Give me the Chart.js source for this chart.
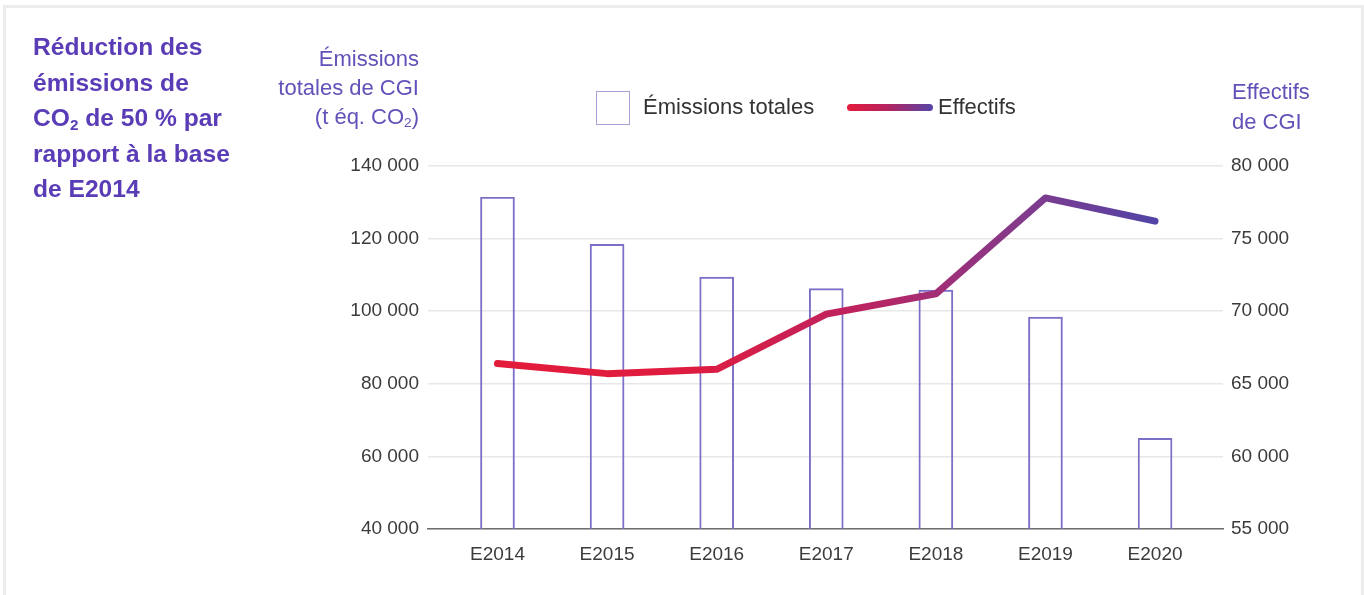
<!DOCTYPE html>
<html>
<head>
<meta charset="utf-8">
<script src="https://cdn.jsdelivr.net/npm/chart.js@4/dist/chart.umd.min.js"></script>
<style>
html,body{margin:0;padding:0;background:#fff;}
#wrap{position:relative;width:1364px;height:595px;overflow:hidden;font-family:"Liberation Sans",Arial,sans-serif;}
#frame{position:absolute;left:3px;top:5px;width:1361px;height:620px;border:3px solid #ececec;box-sizing:border-box;}
#c{position:absolute;left:0;top:0;}
.t{position:absolute;white-space:nowrap;}
sub{font-size:0.62em;vertical-align:-0.25em;line-height:0;}
#title{left:33px;top:29px;color:#5a3db6;font-weight:bold;font-size:24.6px;line-height:35.5px;}
#ytl{right:945px;top:43.6px;text-align:right;color:#6350b8;font-size:22px;line-height:29px;}
#ytr{left:1232px;top:77px;color:#6350b8;font-size:22px;line-height:29.7px;}
#legend .box{position:absolute;left:596px;top:91px;width:34px;height:34px;border:1.5px solid #a99fd9;box-sizing:border-box;}
#legend .ln{position:absolute;left:847px;top:104px;width:86px;height:7px;border-radius:3.5px;background:linear-gradient(to right,#e31b3b,#b8235f 45%,#5544a8);}
#legend .lt{position:absolute;top:94.4px;font-size:22px;line-height:26px;color:#333;white-space:nowrap;}
</style>
</head>
<body>
<div id="wrap">
  <div id="frame"></div>
  <canvas id="c" width="1364" height="595"></canvas>
  <div id="title" class="t">Réduction des<br>émissions de<br>CO<sub>2</sub> de 50&nbsp;% par<br>rapport à la base<br>de E2014</div>
  <div id="ytl" class="t">Émissions<br>totales de CGI<br>(t éq. CO<sub>2</sub>)</div>
  <div id="ytr" class="t">Effectifs<br>de CGI</div>
  <div id="legend"></div>
</div>
<script>
const categories = ['E2014','E2015','E2016','E2017','E2018','E2019','E2020'];
const emissionsTotales = [131400,118400,109400,106200,105800,98400,65000];
const effectifs = [66400,65700,66000,69800,71200,77800,76200];
const leftTicks = [40000,60000,80000,100000,120000,140000];
const rightTicks = [55000,60000,65000,70000,75000,80000];
const seriesLabels = ['Émissions totales','Effectifs'];

const fmt = v => String(v).replace(/\B(?=(\d{3})+(?!\d))/g,' ');
const tickFont = {family:'"Liberation Sans", Arial, sans-serif', size:19};
const tickColor = '#3b3b3b';

function lineGradient(ctx){
  const chart = ctx.chart;
  const xs = chart.scales.x;
  if(!xs || !chart.chartArea) return '#e31b3b';
  const x0 = xs.getPixelForValue(0), x1 = xs.getPixelForValue(categories.length-1);
  const g = chart.ctx.createLinearGradient(x0,0,x1,0);
  g.addColorStop(0,'#e31b3b');
  g.addColorStop(0.3,'#de1c41');
  g.addColorStop(0.55,'#bd2360');
  g.addColorStop(0.8,'#823a8c');
  g.addColorStop(1,'#5244a6');
  return g;
}

const chart = new Chart(document.getElementById('c'), {
  data: {
    datasets: [
      {
        type:'line', label: seriesLabels[1], yAxisID:'y1', order:0,
        data: effectifs.map((v,i)=>({x:i,y:v})),
        borderColor: lineGradient, borderWidth:7,
        borderCapStyle:'round', borderJoinStyle:'round',
        pointRadius:0, tension:0, fill:false
      },
      {
        type:'bar', label: seriesLabels[0], yAxisID:'y', order:1,
        data: emissionsTotales.map((v,i)=>({x:i,y:v})),
        backgroundColor:'rgba(255,255,255,0)', borderColor:'#7b70c8', borderWidth:1.3,
        barThickness:34, borderSkipped:'start'
      }
    ]
  },
  options: {
    responsive:false, animation:false, devicePixelRatio:1,
    layout:{padding:{top:166,left:0,right:0,bottom:0}},
    plugins:{legend:{display:false}, tooltip:{enabled:false}},
    scales:{
      x:{
        type:'linear', min:-0.634, max:6.62, offset:false,
        afterBuildTicks: s => { s.ticks = categories.map((c,i)=>({value:i})); },
        afterFit: s => { s.height = 66; },
        grid:{display:false, drawTicks:false, offset:false},
        border:{display:true, color:'#6e6e6e', width:1.5},
        ticks:{callback: v => categories[v], font:tickFont, color:tickColor, padding:14, maxRotation:0, autoSkip:false}
      },
      y:{
        type:'linear', position:'left', min:40000, max:140000,
        afterBuildTicks: s => { s.ticks = leftTicks.map(v=>({value:v})); },
        afterFit: s => { s.width = 428; },
        grid:{color:'#e8e8e8', lineWidth:1.5, drawTicks:false},
        border:{display:false},
        ticks:{callback: v => fmt(v), font:tickFont, color:tickColor, padding:9}
      },
      y1:{
        type:'linear', position:'right', min:55000, max:80000,
        afterBuildTicks: s => { s.ticks = rightTicks.map(v=>({value:v})); },
        afterFit: s => { s.width = 141; },
        grid:{display:false, drawTicks:false},
        border:{display:false},
        ticks:{callback: v => fmt(v), font:tickFont, color:tickColor, padding:8}
      }
    }
  }
});

// HTML legend built from the dataset labels
const lg = document.getElementById('legend');
lg.innerHTML = '<div class="box"></div><div class="lt" style="left:643px">'+chart.data.datasets[1].label+'</div>'+
               '<div class="ln"></div><div class="lt" style="left:938px">'+chart.data.datasets[0].label+'</div>';
</script>
</body>
</html>
